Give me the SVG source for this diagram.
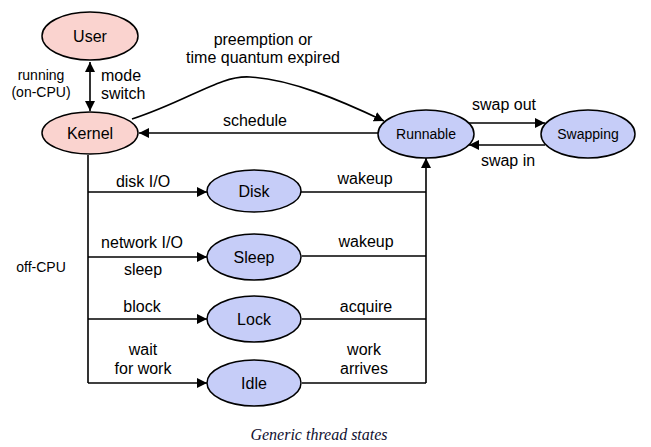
<svg xmlns="http://www.w3.org/2000/svg" width="651" height="447" viewBox="0 0 651 447">
<defs>
<marker id="ah" viewBox="0 0 10 10" refX="10" refY="5" markerWidth="10" markerHeight="10" markerUnits="userSpaceOnUse" orient="auto-start-reverse">
<path d="M0,0 L10,5 L0,10 z" fill="#000"/>
</marker>
<style>
.pink{fill:#fad3cf;stroke:#000;stroke-width:1.5}
.blue{fill:#c6cdf8;stroke:#000;stroke-width:1.5}
.nl{font-family:"Liberation Sans",Arial,sans-serif;font-size:16px;text-anchor:middle;fill:#000}
.ns{font-family:"Liberation Sans",Arial,sans-serif;font-size:14px;text-anchor:middle;fill:#000}
.lb{font-family:"Liberation Sans",Arial,sans-serif;font-size:16px;text-anchor:middle;fill:#000}
.ls{font-family:"Liberation Sans",Arial,sans-serif;font-size:16px;text-anchor:start;fill:#000}
.sm{font-family:"Liberation Sans",Arial,sans-serif;font-size:14px;text-anchor:middle;fill:#000}
.ln{fill:none;stroke:#000;stroke-width:1.6}
.ar{fill:none;stroke:#000;stroke-width:1.6;marker-end:url(#ah)}
</style>
</defs>
<rect width="651" height="447" fill="#fff"/>
<g id="connectors">
<path class="ln" d="M90,62 L90,111" marker-start="url(#ah)" marker-end="url(#ah)"/>
<path class="ar" d="M132,119 C190,100 220,75 250,77 C290,79 340,100 384,121"/>
<path class="ar" d="M378,133 L139,133"/>
<path class="ar" d="M468,123 L545,123"/>
<path class="ar" d="M545,145 L469,145"/>
<path class="ln" d="M88,155 L88,383"/>
<path class="ar" d="M88,192 L207,192"/>
<path class="ar" d="M88,257 L207,257"/>
<path class="ar" d="M88,319 L207,319"/>
<path class="ar" d="M88,383 L207,383"/>
<path class="ln" d="M301,192 L426,192"/>
<path class="ln" d="M302,256 L426,256"/>
<path class="ln" d="M302,319 L426,319"/>
<path class="ln" d="M302,383 L426,383"/>
<path class="ar" d="M426,383 L426,158"/>
</g>
<g id="User"><ellipse class="pink" cx="90" cy="36" rx="48" ry="24"/><text class="nl" x="90" y="42">User</text></g>
<g id="Kernel"><ellipse class="pink" cx="90" cy="133" rx="48" ry="21"/><text class="nl" x="90" y="139">Kernel</text></g>
<g id="Runnable"><ellipse class="blue" cx="426" cy="134" rx="48" ry="24"/><text class="ns" x="426" y="139">Runnable</text></g>
<g id="Swapping"><ellipse class="blue" cx="588" cy="134" rx="47" ry="24"/><text class="ns" x="588" y="139">Swapping</text></g>
<g id="Disk"><ellipse class="blue" cx="254" cy="191" rx="47" ry="21"/><text class="nl" x="254" y="197">Disk</text></g>
<g id="Sleep"><ellipse class="blue" cx="254" cy="257" rx="47" ry="23"/><text class="nl" x="254" y="263">Sleep</text></g>
<g id="Lock"><ellipse class="blue" cx="254" cy="319" rx="47" ry="23"/><text class="nl" x="254" y="325">Lock</text></g>
<g id="Idle"><ellipse class="blue" cx="254" cy="383" rx="47" ry="23"/><text class="nl" x="254" y="389">Idle</text></g>
<g id="labels">
<text class="sm" x="41" y="80">running</text>
<text class="sm" x="41" y="97">(on-CPU)</text>
<text class="ls" x="101" y="81">mode</text>
<text class="ls" x="101" y="99">switch</text>
<text class="lb" x="263" y="45">preemption or</text>
<text class="lb" x="263" y="63">time quantum expired</text>
<text class="lb" x="255" y="126">schedule</text>
<text class="lb" x="504" y="110">swap out</text>
<text class="lb" x="508" y="166">swap in</text>
<text class="lb" x="143" y="187">disk I/O</text>
<text class="lb" x="365" y="184">wakeup</text>
<text class="lb" x="142" y="248">network I/O</text>
<text class="lb" x="143" y="275">sleep</text>
<text class="lb" x="366" y="247">wakeup</text>
<text class="sm" x="41" y="272">off-CPU</text>
<text class="lb" x="142" y="312">block</text>
<text class="lb" x="366" y="312">acquire</text>
<text class="lb" x="143" y="355">wait</text>
<text class="lb" x="143" y="374">for work</text>
<text class="lb" x="364" y="355">work</text>
<text class="lb" x="364" y="374">arrives</text>
<text x="319" y="440" style="font-family:'Liberation Serif','Times New Roman',serif;font-style:italic;font-size:16px;text-anchor:middle;fill:#101030">Generic thread states</text>
</g>
</svg>
